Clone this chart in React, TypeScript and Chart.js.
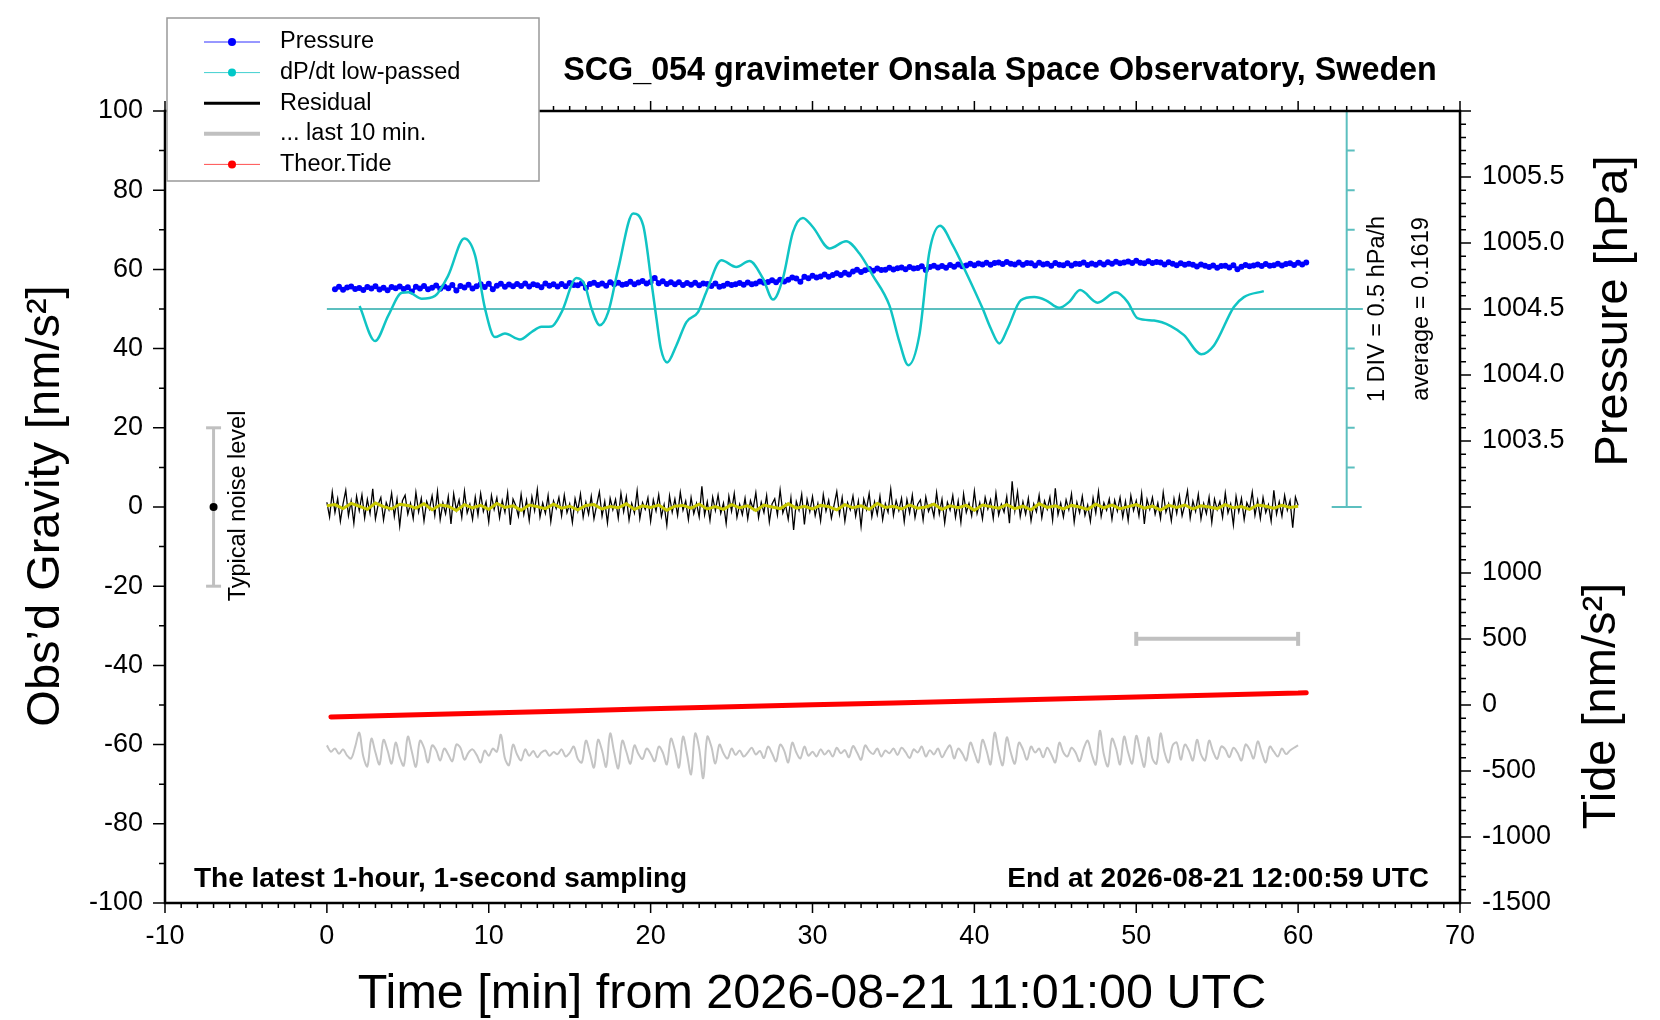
import { useEffect, useRef } from "react"
import { Chart, registerables } from "chart.js"

// Register Chart.js components
Chart.register(...registerables)

const FONT = '"Liberation Sans", Arial, Helvetica, sans-serif'

// time axis [min from 11:01:00 UTC]
const timeMin = -10
const timeMax = 70
const timeTickStep = 10

// left axis: observed gravity [nm/s^2]
const gravityMin = -100
const gravityMax = 100
const gravityTickStep = 20

// right axis, upper part: pressure [hPa]
const pressureMin = 1000
const pressureMax = 1006
const pressureTickStep = 0.5
const pressureLabels = [1003.5, 1004.0, 1004.5, 1005.0, 1005.5]

// right axis, lower part: tide [nm/s^2]
const tideMin = -1500
const tideMax = 4500
const tideLabels = [-1500, -1000, -500, 0, 500, 1000]

// dP/dt [hPa/h], 1 DIV (10 on the left axis) = 0.5 hPa/h, average drawn on the 50 line
const dpdtAverage = 0.1619
const dpdtMin = dpdtAverage - 7.5
const dpdtMax = dpdtAverage + 2.5
const dpdtBaselineSpan = [0, 64]
const divBarTime = 63
const divLevels = [0, 10, 20, 30, 40, 50, 60, 70, 80, 90, 100]

// pressure [hPa], every 15 s from 0.5 min
const pressureStart = 0.5
const pressureStep = 0.25
const pressureHpa = [
  1004.650, 1004.668, 1004.645, 1004.662, 1004.671, 1004.652, 1004.660, 1004.644,
  1004.666, 1004.655, 1004.673, 1004.648, 1004.661, 1004.642, 1004.667, 1004.657,
  1004.670, 1004.651, 1004.664, 1004.632, 1004.668, 1004.655, 1004.674, 1004.650,
  1004.661, 1004.678, 1004.653, 1004.670, 1004.657, 1004.681, 1004.640, 1004.675,
  1004.662, 1004.684, 1004.655, 1004.672, 1004.688, 1004.666, 1004.691, 1004.650,
  1004.677, 1004.692, 1004.668, 1004.686, 1004.672, 1004.689, 1004.675, 1004.694,
  1004.670, 1004.688, 1004.679, 1004.665, 1004.694, 1004.676, 1004.688, 1004.671,
  1004.690, 1004.672, 1004.697, 1004.681, 1004.679, 1004.695, 1004.660, 1004.690,
  1004.698, 1004.681, 1004.693, 1004.676, 1004.702, 1004.687, 1004.699, 1004.684,
  1004.690, 1004.707, 1004.688, 1004.701, 1004.712, 1004.694, 1004.705, 1004.735,
  1004.696, 1004.711, 1004.690, 1004.703, 1004.688, 1004.703, 1004.681, 1004.697,
  1004.684, 1004.698, 1004.679, 1004.693, 1004.690, 1004.675, 1004.694, 1004.669,
  1004.676, 1004.691, 1004.682, 1004.688, 1004.697, 1004.683, 1004.701, 1004.688,
  1004.693, 1004.709, 1004.698, 1004.705, 1004.718, 1004.703, 1004.721, 1004.708,
  1004.722, 1004.738, 1004.731, 1004.706, 1004.745, 1004.733, 1004.751, 1004.738,
  1004.747, 1004.762, 1004.744, 1004.758, 1004.771, 1004.757, 1004.774, 1004.762,
  1004.784, 1004.797, 1004.781, 1004.793, 1004.803, 1004.790, 1004.806, 1004.795,
  1004.798, 1004.812, 1004.800, 1004.809, 1004.815, 1004.802, 1004.818, 1004.806,
  1004.810, 1004.824, 1004.795, 1004.819, 1004.828, 1004.815, 1004.826, 1004.812,
  1004.833, 1004.820, 1004.837, 1004.824, 1004.829, 1004.842, 1004.831, 1004.845,
  1004.838, 1004.851, 1004.836, 1004.848, 1004.853, 1004.840, 1004.856, 1004.843,
  1004.838, 1004.852, 1004.835, 1004.849, 1004.847, 1004.830, 1004.851, 1004.838,
  1004.843, 1004.828, 1004.849, 1004.836, 1004.832, 1004.846, 1004.829, 1004.843,
  1004.841, 1004.852, 1004.833, 1004.845, 1004.836, 1004.851, 1004.838, 1004.855,
  1004.842, 1004.858, 1004.846, 1004.852, 1004.860, 1004.848, 1004.866, 1004.851,
  1004.846, 1004.861, 1004.849, 1004.857, 1004.852, 1004.838, 1004.855, 1004.842,
  1004.832, 1004.846, 1004.835, 1004.843, 1004.836, 1004.822, 1004.838, 1004.827,
  1004.818, 1004.830, 1004.812, 1004.826, 1004.828, 1004.815, 1004.831, 1004.802,
  1004.820, 1004.834, 1004.823, 1004.830, 1004.837, 1004.825, 1004.840, 1004.828,
  1004.831, 1004.843, 1004.829, 1004.840, 1004.846, 1004.833, 1004.850, 1004.838,
  1004.853,
]

// dP/dt low-passed [hPa/h]
const dpdtTimes = [
  2.02, 2.98, 3.8, 4.63, 5.04, 5.86, 6.68, 7.5, 8.49, 9.15, 9.77, 10.38, 11.0, 11.93,
  12.65, 13.26, 13.88, 14.5, 15.42, 15.94, 16.35, 16.86, 17.38, 18.0, 18.92, 19.54,
  20.05, 20.36, 20.63, 21.02, 21.59, 22.21, 22.93, 23.44, 24.37, 25.29, 26.11, 26.94,
  27.56, 28.17, 28.79, 29.41, 30.02, 31.05, 32.08, 32.9, 33.72, 34.75, 35.37, 35.92,
  36.6, 37.22, 37.88, 38.66, 39.48, 40.51, 41.02, 41.54, 42.05, 42.87, 43.7, 44.42,
  45.24, 45.86, 46.53, 47.61, 48.74, 49.46, 50.07, 51.1, 52.13, 52.95, 54.02, 54.8,
  56.03, 56.65, 57.88,
]
const dpdtValues = [
  0.200, -0.243, 0.082, 0.367, 0.372, 0.292, 0.327, 0.587, 1.052, 0.842, 0.167, -0.193,
  -0.148, -0.223, -0.128, -0.063, -0.058, 0.122, 0.552, 0.462, 0.167, -0.043, 0.122,
  0.672, 1.367, 1.217, 0.502, 0.042, -0.338, -0.513, -0.298, -0.003, 0.122, 0.377,
  0.777, 0.692, 0.767, 0.547, 0.282, 0.547, 1.132, 1.312, 1.197, 0.927, 1.017, 0.862,
  0.587, 0.207, -0.253, -0.548, -0.168, 0.882, 1.212, 0.967, 0.627, 0.167, -0.088,
  -0.273, -0.088, 0.272, 0.312, 0.272, 0.177, 0.252, 0.402, 0.242, 0.372, 0.252,
  0.047, 0.017, -0.053, -0.168, -0.408, -0.298, 0.187, 0.312, 0.387,
]

// residual [nm/s^2], every 10 s
const residualStep = 1 / 6
const residual = [
  1.2, -2.5, 3.8, -1.4, 2.1, -3.6, 0.8, 4.2, -2.2, 1.5, -4.1, 2.7, -0.9, 3.1, -2.8, 1.9, -1.6, 4.6, -3.0, 0.6,
  2.4, -3.3, 1.1, -0.7, 3.5, -2.4, 2.0, -4.8, 1.6, 3.0, -1.8, 0.9, -2.9, 3.7, -1.2, 2.2, -3.5, 1.4, -0.5, 2.8,
  -2.1, 3.9, -3.2, 1.0, -1.7, 2.6, -4.3, 3.3, -0.8, 1.8, -2.6, 4.0, -1.5, 0.7, -3.1, 2.5, -2.0, 3.4, -1.1, 1.3,
  -3.8, 2.9, -0.6, 2.3, -2.7, 1.6, -1.3, 3.6, -4.5, 2.0, 0.4, -2.3, 3.2, -1.9, 1.7, -3.4, 2.6, -0.9, 4.4, -2.5,
  1.0, -1.6, 2.9, -3.7, 1.5, -0.4, 2.4, -2.2, 3.0, -1.4, 0.8, -3.9, 2.1, -1.0, 3.3, -2.6, 1.2, -1.8, 2.7, -3.0,
  0.5, 3.8, -2.3, 1.4, -4.0, 2.2, -0.7, 1.9, -2.8, 3.5, -1.2, 2.6, -3.3, 0.9, -1.5, 4.1, -2.9, 1.1, -0.6, 2.3,
  -3.6, 1.8, -1.0, 3.1, -2.4, 0.6, -4.6, 2.8, -1.3, 2.0, -2.1, 3.7, -0.8, 1.5, -3.2, 2.4, -1.7, 0.9, -2.5, 5.2,
  -2.0, 1.3, -3.4, 2.5, -0.9, 3.0, -1.6, 1.0, -4.2, 2.7, -1.1, 3.4, -2.6, 0.7, -1.9, 2.2, -3.0, 1.6, -0.5, 3.6,
  -2.7, 1.2, -1.4, 2.9, -3.8, 0.8, 2.1, -2.0, 4.3, -1.5, 0.6, -3.1, 2.3, -5.8, 1.4, -0.8, 3.2, -4.4, 1.9, -1.2,
  2.6, -2.2, 0.9, -3.5, 3.1, -1.0, 1.7, -2.8, 0.5, 3.9, -1.8, 2.4, -3.6, 1.1, -0.7, 2.8, -2.3, 1.5, -4.9, 2.0,
  -0.6, 3.4, -2.5, 1.3, -1.9, 2.7, -3.2, 0.8, -1.3, 4.5, -2.1, 1.6, -0.9, 2.2, -3.7, 1.9, -1.5, 3.0, -2.7, 0.7,
  1.8, -3.3, 2.5, -1.1, 0.6, -2.4, 3.6, -1.7, 2.0, -4.0, 1.2, -0.8, 2.9, -2.6, 1.5, -3.9, 3.3, -1.4, 0.9, -2.2,
  4.0, -1.6, 1.1, -3.0, 2.4, -0.5, 1.8, -2.9, 3.5, -2.0, 0.7, -1.3, 2.6, -4.1, 6.5, -0.9, 3.8, -2.4, 1.3, -1.8,
  2.2, -3.5, 0.8, -1.2, 3.0, -2.7, 1.5, -0.6, 2.5, -3.3, 4.7, -1.9, 1.0, -2.5, 1.8, -0.7, 3.3, -3.8, 1.2, -1.4,
  2.7, -2.1, 0.5, -3.6, 2.3, -1.5, 3.9, -2.4, 1.1, -0.8, 2.0, -3.1, 1.7, -1.0, 2.4, -2.6, 1.4, -3.4, 2.9, -0.9,
  1.6, -2.3, 3.4, -4.3, 1.9, -0.6, 2.4, -1.8, 1.0, -2.9, 3.7, -1.3, 0.8, -3.5, 2.1, -1.6, 2.8, -2.2, 0.6, 4.1,
  -2.8, 1.5, -1.1, 3.2, -3.0, 0.9, -1.7, 2.5, -3.9, 2.0, -0.7, 1.4, -2.6, 3.5, -1.5, 0.8, -4.5, 2.7, -1.2, 2.2,
  -3.2, 1.1, -0.5, 3.8, -2.1, 1.7, -2.9, 2.4, -1.4, 0.6, -3.6, 4.2, -1.8, 1.3, -2.3, 2.9, -0.8, 1.6, -5.2, 2.5,
  0.4,
]

// smoothed residual (yellow), every 30 s
const smoothStep = 0.5
const residualSmoothed = [
  0.3, 0.6, -0.4, 0.9, 0.2, -0.6, 1.0, 0.1, -0.5, 0.7,
  0.4, -0.3, 0.8, -0.7, 0.5, 0.2, -0.9, 0.6, -0.2, 0.4,
  -0.6, 0.9, -0.1, 0.3, -0.8, 0.5, 0.1, -0.4, 0.7, -0.3,
  0.2, -0.7, 0.4, 0.6, -0.5, 0.1, -0.2, 0.8, -0.6, 0.3,
  -0.1, 0.5, -0.8, 0.2, 0.4, -0.3, 0.7, -0.5, 0.1, -0.6,
  0.6, -0.2, 0.3, -0.9, 0.5, 0.0, -0.4, 0.8, -0.3, 0.2,
  -0.5, 0.4, 0.1, -0.7, 0.6, -0.2, 0.3, -0.6, 0.9, -0.1,
  0.2, -0.5, 0.5, -0.3, 0.0, 0.7, -0.6, 0.3, -0.2, 0.4,
  -0.8, 0.5, 0.1, -0.3, 0.6, -0.4, 0.2, -0.7, 0.8, -0.1,
  0.3, -0.5, 0.4, 0.0, -0.6, 0.7, -0.2, 0.5, -0.4, 0.1,
  0.6, -0.3, 0.2, -0.8, 0.4, -0.1, 0.5, -0.5, 0.3, 0.0,
  -0.4, 0.6, -0.2, 0.1, -0.6, 0.5, 0.2, -0.3, 0.4, -0.1,
  0.2,
]

// gray high-frequency trace (left-axis units), every 15 s
const grayStep = 0.25
const grayTrace = [
  -60.2, -61.8, -61.0, -62.3, -61.2, -62.8, -63.5, -60.5, -57.0,
  -63.0, -65.5, -58.5, -62.0, -65.0, -58.8, -61.5, -64.8, -59.5, -63.2, -65.3, -58.0,
  -61.8, -65.6, -59.0, -60.8, -64.5, -60.2, -61.4, -64.0, -61.0, -62.5, -64.2, -60.0,
  -60.8, -63.8, -62.0, -61.2, -62.6, -64.5, -61.5, -62.8, -61.0, -61.8, -57.5, -63.5,
  -65.2, -60.0, -62.5, -64.0, -61.2, -62.8, -61.6, -63.2, -62.0, -61.5, -62.8, -61.9,
  -62.4, -61.2, -63.0, -62.1, -60.5, -63.6, -64.5, -59.0, -62.2, -65.8, -58.8, -61.5,
  -65.6, -57.2, -62.0, -66.0, -59.0, -61.8, -64.8, -60.2, -62.4, -63.6, -61.0, -62.3,
  -64.2, -60.5, -62.0, -65.0, -58.5, -61.5, -65.8, -58.0, -62.5, -67.5, -57.2, -61.0,
  -68.5, -58.0, -60.5, -64.8, -60.0, -62.2, -63.5, -61.0, -62.6, -61.5, -63.0, -62.0,
  -60.8, -62.5, -61.6, -63.4, -60.5, -62.2, -64.2, -60.0, -61.5, -64.5, -59.5, -62.0,
  -63.5, -60.5, -62.8, -61.8, -63.0, -61.2, -62.5, -61.5, -63.0, -60.8, -62.2, -61.4,
  -63.2, -60.4, -62.0, -63.8, -60.2, -61.6, -62.4, -61.0, -63.0, -61.5, -62.2, -61.0,
  -62.6, -60.8, -61.9, -63.4, -61.2, -62.0, -60.5, -63.0, -61.4, -62.5, -61.0, -63.2,
  -61.5, -60.2, -63.5, -61.0, -62.2, -64.0, -59.5, -62.0, -64.5, -58.8, -61.5, -65.0,
  -57.0, -61.8, -65.2, -58.2, -62.0, -64.8, -59.5, -61.2, -63.8, -60.5, -62.0, -61.0,
  -63.2, -60.8, -62.5, -64.5, -59.5, -62.0, -63.0, -60.8, -62.0, -64.2, -61.0, -59.0,
  -62.5, -65.0, -56.5, -62.5, -65.5, -58.5, -61.0, -65.0, -58.0, -62.0, -64.8, -57.8,
  -61.8, -65.6, -58.2, -63.5, -64.8, -57.2, -62.0, -64.5, -60.2, -59.5, -63.8, -60.0,
  -61.5, -64.0, -58.8, -62.5, -64.0, -59.0, -61.8, -63.6, -60.5, -61.2, -63.2, -60.8,
  -62.0, -64.0, -60.0, -61.2, -63.5, -59.2, -62.0, -64.5, -60.5, -61.8, -63.0, -61.0,
  -62.4, -61.5, -60.8, -60.2,
]

// theoretical tide [nm/s^2]
const tideTimes = [0.25, 5, 10, 15, 20, 25, 30, 35, 40, 45, 50, 55, 60, 60.5]
const tideValues = [-90, -76, -61, -46, -29, -14, 1, 16, 31, 46, 61, 76, 90, 93]

// markers
const noiseLevelTime = -7
const noiseLevelRange = [-20, 20]
const lastTenMinSpan = [50, 60]
const lastTenMinLevel = -33.3

const legendItems = [
  { label: "Pressure", color: "#3030ff", width: 1, dot: "#0000ff" },
  { label: "dP/dt low-passed", color: "#40d0d0", width: 1, dot: "#00c8c8" },
  { label: "Residual", color: "#000000", width: 3, dot: null },
  { label: "... last 10 min.", color: "#c0c0c0", width: 4, dot: null },
  { label: "Theor.Tide", color: "#ff5050", width: 1, dot: "#ff0000" },
]

function series(start: number, step: number, values: number[]) {
  return values.map((v, i) => ({ x: start + i * step, y: v }))
}

function text(ctx: CanvasRenderingContext2D, s: string, x: number, y: number, font: string, align: CanvasTextAlign, rotate = 0) {
  ctx.save()
  ctx.translate(x, y)
  if (rotate) ctx.rotate(rotate)
  ctx.font = font
  ctx.fillStyle = "#000"
  ctx.textAlign = align
  ctx.textBaseline = "middle"
  ctx.fillText(s, 0, 0)
  ctx.restore()
}

const decorPlugin = {
  id: "decor",
  beforeDatasetsDraw(chart: any) {
    const { ctx } = chart
    const xs = chart.scales.x
    const ys = chart.scales.y
    const bx = xs.getPixelForValue(divBarTime)
    ctx.save()
    ctx.strokeStyle = "#5cbfbf"
    ctx.lineWidth = 2
    ctx.beginPath()
    ctx.moveTo(bx, ys.getPixelForValue(divLevels[0]))
    ctx.lineTo(bx, ys.getPixelForValue(divLevels[divLevels.length - 1]))
    divLevels.forEach((v, i) => {
      const py = ys.getPixelForValue(v)
      const end = i === 0 || i === divLevels.length - 1
      ctx.moveTo(end ? bx - 15 : bx, py)
      ctx.lineTo(bx + (end ? 15 : 8), py)
    })
    ctx.stroke()
    ctx.restore()
  },
  afterDatasetsDraw(chart: any) {
    const { ctx, chartArea: a } = chart
    const xs = chart.scales.x
    const ys = chart.scales.y
    const ps = chart.scales.yP
    ctx.save()
    ctx.strokeStyle = "#000"
    ctx.lineWidth = 1.5
    ctx.beginPath()
    for (let k = 0; k <= timeMax - timeMin; k++) {
      const px = xs.getPixelForValue(timeMin + k)
      const len = k % 10 === 0 ? 10 : 5
      ctx.moveTo(px, a.bottom)
      ctx.lineTo(px, a.bottom + len)
      ctx.moveTo(px, a.top)
      ctx.lineTo(px, a.top - len)
    }
    for (let k = 0; k <= 20; k++) {
      const py = ys.getPixelForValue(gravityMin + 10 * k)
      const len = k % 2 === 0 ? 12 : 6
      ctx.moveTo(a.left, py)
      ctx.lineTo(a.left - len, py)
    }
    for (let k = 0; k <= 60; k++) {
      const py = ps.getPixelForValue(pressureMin + 0.1 * k)
      const len = k % 5 === 0 ? 11 : 6
      ctx.moveTo(a.right, py)
      ctx.lineTo(a.right + len, py)
    }
    ctx.stroke()
    ctx.lineWidth = 2.5
    ctx.strokeRect(a.left, a.top, a.right - a.left, a.bottom - a.top)
    ctx.restore()
  },
  afterDraw(chart: any) {
    const { ctx } = chart
    const up = -Math.PI / 2

    text(ctx, "SCG_054 gravimeter Onsala Space Observatory, Sweden", 1000, 71, `bold 32.3px ${FONT}`, "center")
    text(ctx, "The latest 1-hour, 1-second sampling", 194, 879, `bold 28px ${FONT}`, "left")
    text(ctx, "End at 2026-08-21 12:00:59 UTC", 1429, 879, `bold 28px ${FONT}`, "right")
    text(ctx, "Time [min] from 2026-08-21 11:01:00 UTC", 812, 995, `48.5px ${FONT}`, "center")
    text(ctx, "Obs\u2019d Gravity [nm/s\u00b2]", 46, 506, `47px ${FONT}`, "center", up)
    text(ctx, "Pressure [hPa]", 1614, 311, `47px ${FONT}`, "center", up)
    text(ctx, "Tide [nm/s\u00b2]", 1602, 706, `47px ${FONT}`, "center", up)
    text(ctx, "Typical noise level", 239, 506, `23.5px ${FONT}`, "center", up)
    text(ctx, "1 DIV = 0.5 hPa/h", 1378, 309, `23.5px ${FONT}`, "center", up)
    text(ctx, "average = 0.1619", 1422, 309, `23.5px ${FONT}`, "center", up)

    // legend box
    ctx.save()
    ctx.fillStyle = "#fff"
    ctx.fillRect(167, 18, 372, 163)
    ctx.strokeStyle = "#999"
    ctx.lineWidth = 1.5
    ctx.strokeRect(167, 18, 372, 163)
    legendItems.forEach((item, i) => {
      const y = 42 + i * 30.6
      ctx.strokeStyle = item.color
      ctx.lineWidth = item.width
      ctx.beginPath()
      ctx.moveTo(204, y)
      ctx.lineTo(260, y)
      ctx.stroke()
      if (item.dot) {
        ctx.fillStyle = item.dot
        ctx.beginPath()
        ctx.arc(232, y, 4, 0, Math.PI * 2)
        ctx.fill()
      }
      text(ctx, item.label, 280, y, `23.5px ${FONT}`, "left")
    })
    ctx.restore()
  },
}

function rightLabel(value: number) {
  const p = Number(value)
  if (pressureLabels.some((l) => Math.abs(l - p) < 1e-6)) return p.toFixed(1)
  const t = tideMin + ((p - pressureMin) / (pressureMax - pressureMin)) * (tideMax - tideMin)
  const tr = Math.round(t)
  if (tideLabels.includes(tr)) return String(tr)
  return ""
}

export default function App() {
  const canvasRef = useRef<HTMLCanvasElement>(null)
  const chartRef = useRef<Chart | null>(null)

  useEffect(() => {
    if (!canvasRef.current) return
    if (chartRef.current) chartRef.current.destroy()

    const tickFont = { family: FONT, size: 27 }
    const line = (extra: any) => ({ pointRadius: 0, fill: false, tension: 0, ...extra })

    chartRef.current = new Chart(canvasRef.current, {
      type: "line",
      data: {
        datasets: [
          line({
            label: "smoothed",
            data: series(0, smoothStep, residualSmoothed),
            borderColor: "#c8c800",
            borderWidth: 3,
            yAxisID: "y",
          }),
          line({
            label: "Residual",
            data: series(0, residualStep, residual),
            borderColor: "#000",
            borderWidth: 1.3,
            yAxisID: "y",
          }),
          line({
            label: "dP/dt low-passed",
            data: dpdtTimes.map((t, i) => ({ x: t, y: dpdtValues[i] })),
            borderColor: "#10c4c4",
            borderWidth: 2.5,
            cubicInterpolationMode: "monotone",
            yAxisID: "yD",
          }),
          {
            label: "Pressure",
            data: series(pressureStart, pressureStep, pressureHpa),
            borderColor: "#0000ff",
            borderWidth: 2.5,
            pointRadius: 3,
            pointBorderWidth: 0,
            pointBackgroundColor: "#0000ff",
            tension: 0,
            yAxisID: "yP",
          },
          line({
            label: "dP/dt average",
            data: dpdtBaselineSpan.map((t) => ({ x: t, y: dpdtAverage })),
            borderColor: "#5cbfbf",
            borderWidth: 2,
            yAxisID: "yD",
          }),
          line({
            label: "Theor.Tide",
            data: tideTimes.map((t, i) => ({ x: t, y: tideValues[i] })),
            borderColor: "#ff0000",
            borderWidth: 5,
            borderCapStyle: "round",
            yAxisID: "yT",
          }),
          line({
            label: "gray trace",
            data: series(0, grayStep, grayTrace),
            borderColor: "#c4c4c4",
            borderWidth: 2,
            tension: 0.35,
            yAxisID: "y",
          }),
          {
            label: "last 10 min",
            data: lastTenMinSpan.map((t) => ({ x: t, y: lastTenMinLevel })),
            borderColor: "#c0c0c0",
            borderWidth: 4,
            pointStyle: "line",
            rotation: 90,
            pointRadius: 7,
            pointBorderWidth: 4,
            pointBorderColor: "#c0c0c0",
            yAxisID: "y",
          },
          {
            label: "noise centre",
            data: [{ x: noiseLevelTime, y: 0 }],
            showLine: false,
            pointRadius: 4,
            pointBorderWidth: 0,
            pointBackgroundColor: "#000",
            yAxisID: "y",
          },
          {
            label: "noise level",
            data: noiseLevelRange.map((v) => ({ x: noiseLevelTime, y: v })),
            borderColor: "#c0c0c0",
            borderWidth: 3,
            pointStyle: "line",
            pointRadius: 7.5,
            pointBorderWidth: 3,
            pointBorderColor: "#c0c0c0",
            yAxisID: "y",
          },
        ],
      },
      options: {
        responsive: false,
        animation: false,
        events: [],
        layout: { padding: { top: 111, left: 0, right: 0, bottom: 0 } },
        plugins: {
          legend: { display: false },
          tooltip: { enabled: false },
          title: { display: false },
        },
        scales: {
          x: {
            type: "linear",
            position: "bottom",
            min: timeMin,
            max: timeMax,
            grid: { display: false, drawTicks: false },
            border: { display: false },
            ticks: { stepSize: timeTickStep, font: tickFont, color: "#000", padding: 17, maxRotation: 0, autoSkip: false },
            afterFit: (s: any) => {
              s.height = 117
            },
          },
          y: {
            type: "linear",
            position: "left",
            min: gravityMin,
            max: gravityMax,
            grid: { display: false, drawTicks: false },
            border: { display: false },
            ticks: { stepSize: gravityTickStep, font: tickFont, color: "#000", padding: 22, autoSkip: false },
            afterFit: (s: any) => {
              s.width = 165
            },
          },
          yP: {
            type: "linear",
            position: "right",
            min: pressureMin,
            max: pressureMax,
            grid: { display: false, drawTicks: false },
            border: { display: false },
            ticks: {
              stepSize: pressureTickStep,
              font: tickFont,
              color: "#000",
              padding: 22,
              autoSkip: false,
              callback: (v: any) => rightLabel(v),
            },
            afterFit: (s: any) => {
              s.width = 200
            },
          },
          yT: { type: "linear", display: false, min: tideMin, max: tideMax },
          yD: { type: "linear", display: false, min: dpdtMin, max: dpdtMax },
        },
      },
      plugins: [decorPlugin],
    } as any)

    return () => {
      if (chartRef.current) {
        chartRef.current.destroy()
        chartRef.current = null
      }
    }
  }, [])

  return (
    <div style={{ position: "absolute", left: 0, top: 0, width: 1660, height: 1020, background: "#fff" }}>
      <canvas ref={canvasRef} width={1660} height={1020} style={{ width: 1660, height: 1020, display: "block" }} />
    </div>
  )
}
